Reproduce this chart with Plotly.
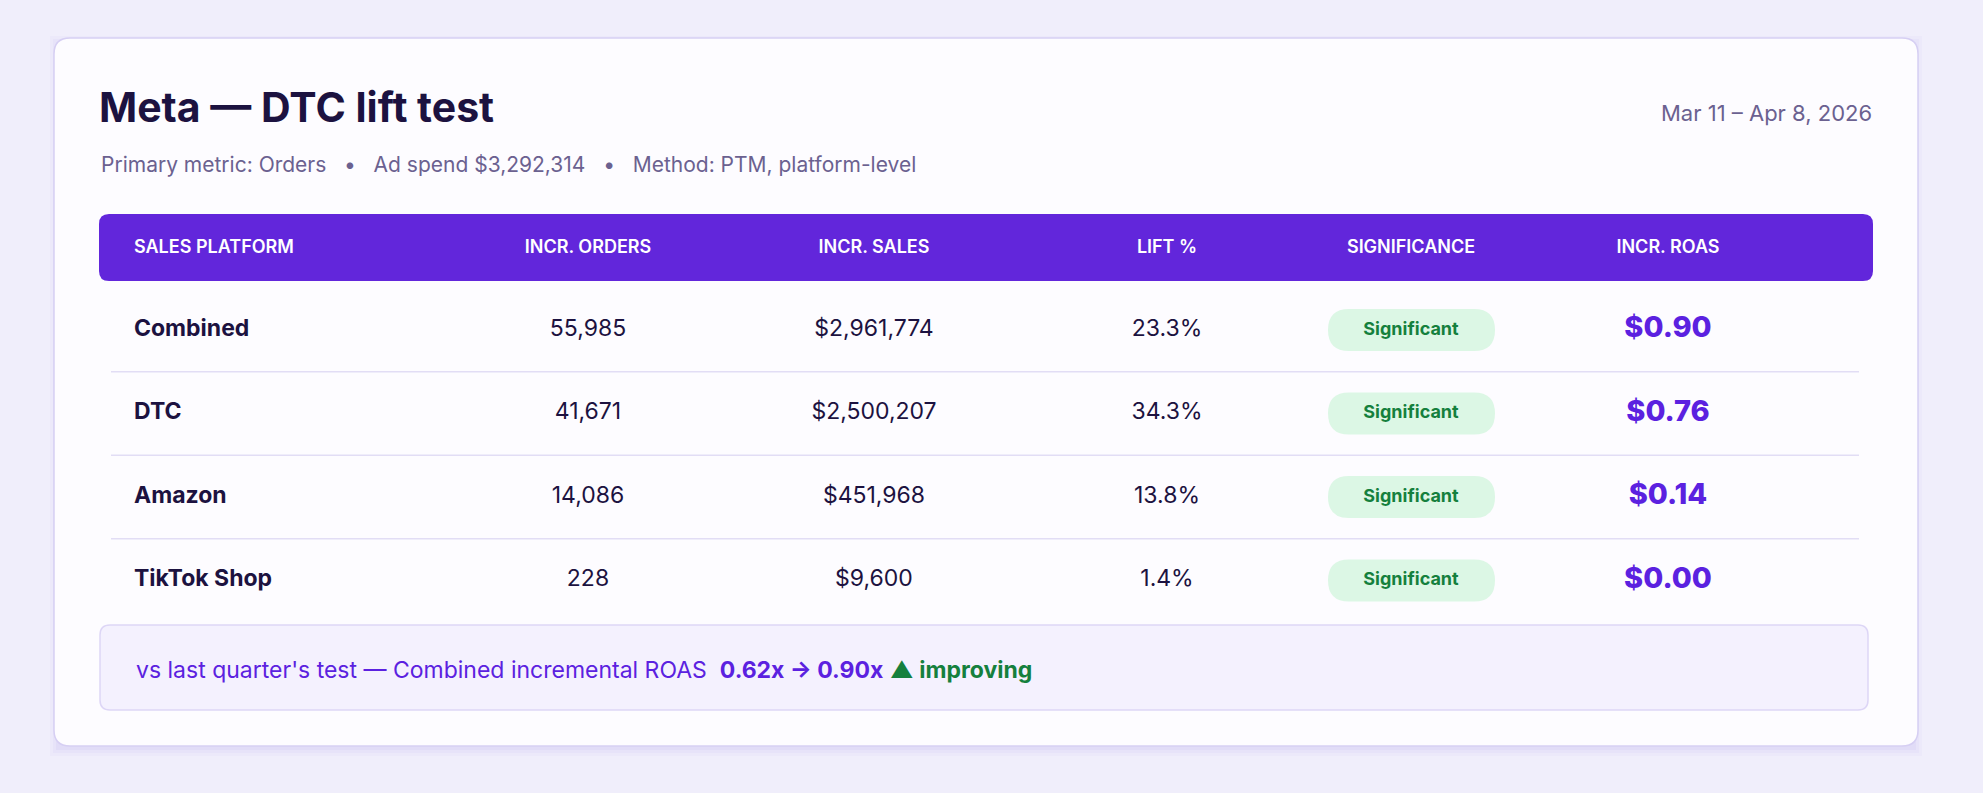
import plotly.graph_objects as go

platforms = ["Combined", "DTC", "Amazon", "TikTok Shop"]
incr_orders = [55985, 41671, 14086, 228]
incr_sales = [2961774, 2500207, 451968, 9600]
lift_pct = [23.3, 34.3, 13.8, 1.4]
significance = ["Significant", "Significant", "Significant", "Significant"]
incr_roas = [0.90, 0.76, 0.14, 0.00]
headers = ["SALES PLATFORM", "INCR. ORDERS", "INCR. SALES", "LIFT %", "SIGNIFICANCE", "INCR. ROAS"]
title = "Meta — DTC lift test"
subtitle = "Primary metric: Orders   •   Ad spend $3,292,314   •   Method: PTM, platform-level"
date_range = "Mar 11 – Apr 8, 2026"
prev_roas, cur_roas = 0.62, 0.90

W, H = 1983, 793
FONT = "Inter, Roboto, sans-serif"
DARK = "#1c1240"
PURPLE = "#6226DB"
MUTED = "#6b6190"

fig = go.Figure()
shapes = []
# soft card shadow + card
for k, a in [(8, 0.03), (5, 0.04), (2, 0.05)]:
    shapes.append(dict(type="rect", x0=54 - k + 4, y0=38 + 6 - k, x1=1918 + k - 4, y1=746 + k + 2,
                       line=dict(width=0), fillcolor=f"rgba(120,100,220,{a})", layer="below"))
shapes.append(dict(type="path", path="M 70 38 L 1902 38 Q 1918 38 1918 54 L 1918 730 Q 1918 746 1902 746 L 70 746 Q 54 746 54 730 L 54 54 Q 54 38 70 38 Z",
                   fillcolor="#fdfcff", line=dict(color="#d6cff3", width=1.5), layer="below"))
# header bar
shapes.append(dict(type="path", path="M 109 214 L 1863 214 Q 1873 214 1873 224 L 1873 271 Q 1873 281 1863 281 L 109 281 Q 99 281 99 271 L 99 224 Q 99 214 109 214 Z",
                   fillcolor=PURPLE, line=dict(width=0), layer="below"))

row_y = [330 + i * 83.5 for i in range(len(platforms))]
for i in range(len(platforms) - 1):
    yy = (row_y[i] + row_y[i + 1]) / 2
    shapes.append(dict(type="line", x0=111, x1=1859, y0=yy, y1=yy, line=dict(color="#e2ddf5", width=1.5), layer="below"))
for y in row_y:
    shapes.append(dict(type="path",
                       path=f"M 1349 {y-21} L 1474 {y-21} Q 1495 {y-21} 1495 {y} Q 1495 {y+21} 1474 {y+21} L 1349 {y+21} Q 1328 {y+21} 1328 {y} Q 1328 {y-21} 1349 {y-21} Z",
                       fillcolor="#dcf7e5", line=dict(width=0), layer="below"))
shapes.append(dict(type="path", path="M 110 625 L 1858 625 Q 1868 625 1868 635 L 1868 700 Q 1868 710 1858 710 L 110 710 Q 100 710 100 700 L 100 635 Q 100 625 110 625 Z",
                   fillcolor="#f4f1fe", line=dict(color="#ddd6f6", width=1.5), layer="below"))

hx = [134, 588, 874, 1167, 1411, 1668]
fig.add_trace(go.Scatter(x=hx, y=[248] * 6, mode="text", text=headers,
                         textposition=["middle right"] + ["middle center"] * 5,
                         textfont=dict(family=FONT, size=18, color="white", weight=600), hoverinfo="skip"))
fig.add_trace(go.Scatter(x=[134] * 4, y=row_y, mode="text", text=platforms, textposition="middle right",
                         textfont=dict(family=FONT, size=23, color=DARK, weight=700), hoverinfo="skip"))
fig.add_trace(go.Scatter(x=[588] * 4, y=row_y, mode="text", text=[f"{v:,}" for v in incr_orders],
                         textfont=dict(family=FONT, size=23, color=DARK), hoverinfo="skip"))
fig.add_trace(go.Scatter(x=[874] * 4, y=row_y, mode="text", text=[f"${v:,}" for v in incr_sales],
                         textfont=dict(family=FONT, size=23, color=DARK), hoverinfo="skip"))
fig.add_trace(go.Scatter(x=[1167] * 4, y=row_y, mode="text", text=[f"{v:.1f}%" for v in lift_pct],
                         textfont=dict(family=FONT, size=23, color=DARK), hoverinfo="skip"))
fig.add_trace(go.Scatter(x=[1411] * 4, y=row_y, mode="text", text=significance,
                         textfont=dict(family=FONT, size=18, color="#15803d", weight=700), hoverinfo="skip"))
fig.add_trace(go.Scatter(x=[1668] * 4, y=row_y, mode="text", text=[f"${v:.2f}" for v in incr_roas],
                         textfont=dict(family=FONT, size=29, color="#5b21e0", weight=800), hoverinfo="skip"))

annotations = [
    dict(x=97, y=107, text=f"<b>{title}</b>", showarrow=False, xanchor="left", yanchor="middle",
         font=dict(family=FONT, size=41, color=DARK)),
    dict(x=99, y=164, text=subtitle, showarrow=False, xanchor="left", yanchor="middle",
         font=dict(family=FONT, size=21, color=MUTED)),
    dict(x=1874, y=113, text=date_range, showarrow=False, xanchor="right", yanchor="middle",
         font=dict(family=FONT, size=22, color=MUTED)),
    dict(x=134, y=670, showarrow=False, xanchor="left", yanchor="middle",
         text=(f"<span style='color:#5b21e0'>vs last quarter's test — Combined incremental ROAS  </span>"
               f"<b><span style='color:#5b21e0'>{prev_roas:.2f}x → {cur_roas:.2f}x</span></b> "
               f"<b><span style='color:#15803d'>▲ improving</span></b>"),
         font=dict(family=FONT, size=23)),
]

fig.update_layout(width=W, height=H, margin=dict(l=0, r=0, t=0, b=0),
                  paper_bgcolor="#f0eefb", plot_bgcolor="rgba(0,0,0,0)", showlegend=False,
                  xaxis=dict(range=[0, W], visible=False, fixedrange=True),
                  yaxis=dict(range=[H, 0], visible=False, fixedrange=True),
                  shapes=shapes, annotations=annotations)
fig.write_html("out.html", config={"displayModeBar": False},
               post_script="document.body.style.margin='0';document.body.style.background='#f0eefb';")
